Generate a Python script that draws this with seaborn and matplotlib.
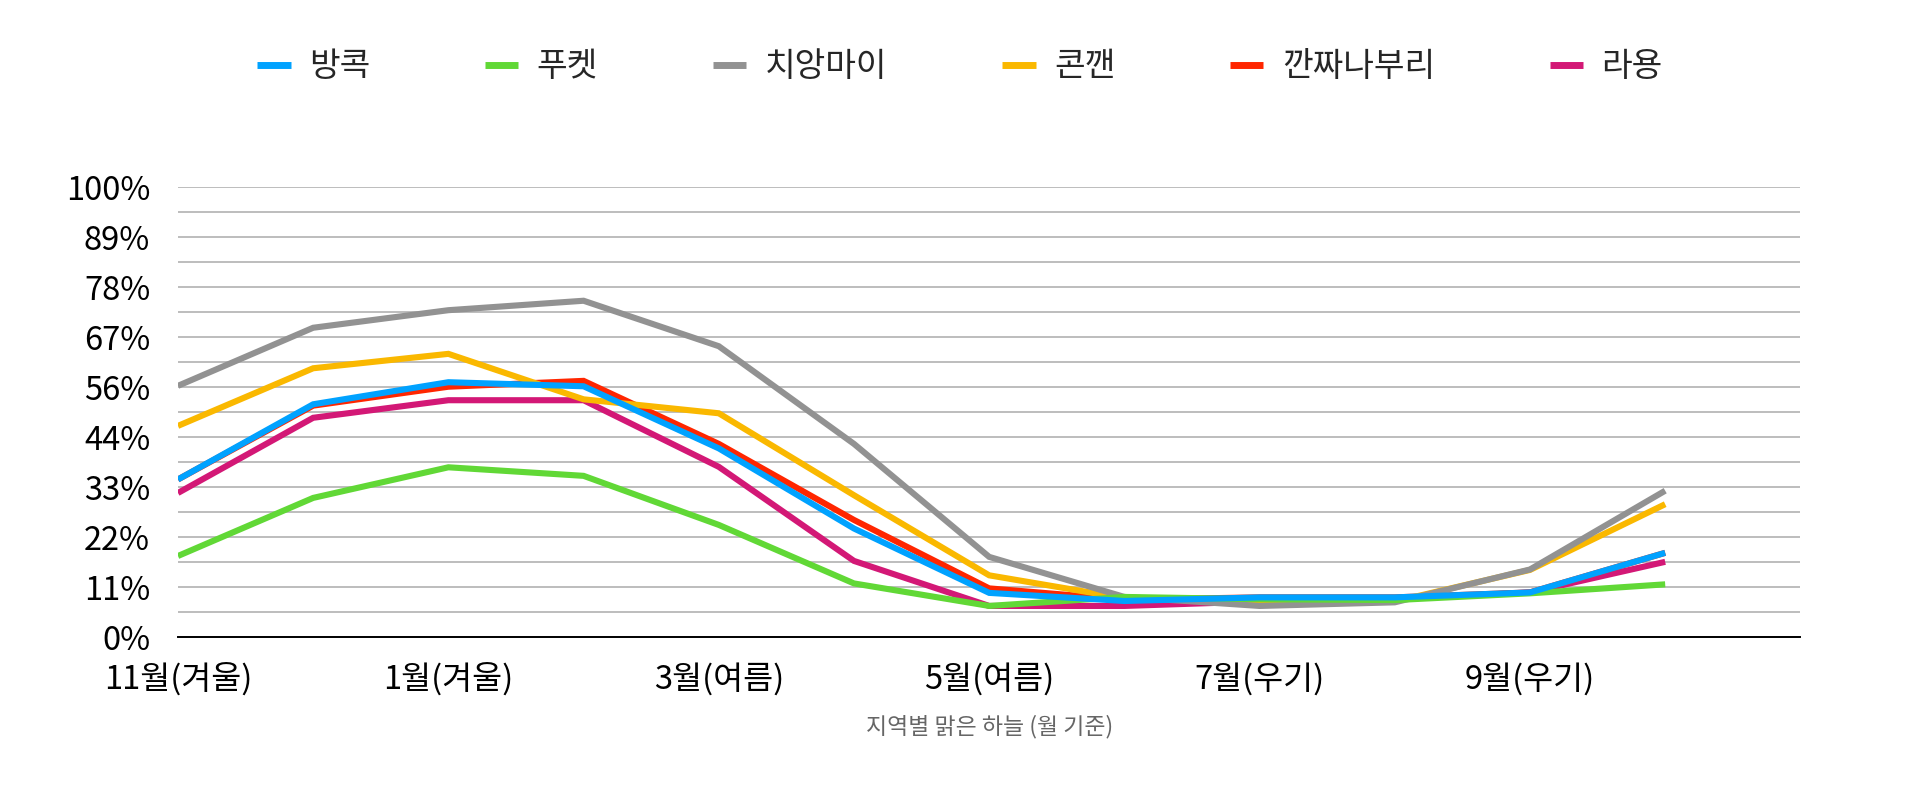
import matplotlib
matplotlib.use("Agg")
import matplotlib.pyplot as plt
import seaborn as sns
import pandas as pd
import numpy as np
from matplotlib.lines import Line2D

# ---- data ----
months = ["11월", "12월", "1월", "2월", "3월", "4월", "5월", "6월", "7월", "8월", "9월", "10월"]
tick_labels_x = ["11월(겨울)", "1월(겨울)", "3월(여름)", "5월(여름)", "7월(우기)", "9월(우기)"]
tick_labels_y = ["0%", "11%", "22%", "33%", "44%", "56%", "67%", "78%", "89%", "100%"]

bangkok = [35.1, 51.8, 56.7, 55.8, 42.0, 24.2, 9.9, 8.1, 8.9, 8.9, 10.0, 18.8]
phuket = [18.1, 31.0, 37.8, 35.9, 25.0, 12.0, 7.0, 9.0, 8.5, 8.3, 9.8, 11.8]
chiangmai = [55.9, 68.8, 72.7, 74.8, 64.7, 43.0, 17.9, 9.0, 7.0, 7.8, 15.1, 32.6]
khonkaen = [47.0, 59.8, 63.0, 52.9, 49.8, 31.6, 13.8, 8.7, 7.8, 8.0, 15.0, 29.6]
kanchanaburi = [35.1, 51.5, 55.7, 57.0, 43.0, 26.1, 10.9, 8.4, 8.9, 8.9, 10.0, 18.8]
rayong = [32.1, 48.8, 52.7, 52.7, 37.9, 17.0, 7.0, 7.0, 8.0, 8.5, 10.0, 16.8]

series_names = ["방콕", "푸켓", "치앙마이", "콘깬", "깐짜나부리", "라용"]
series_values = [bangkok, phuket, chiangmai, khonkaen, kanchanaburi, rayong]
colors = ["#00A2FF", "#61D836", "#929292", "#FAB800", "#FF2600", "#D31876"]
draw_order = ["라용", "깐짜나부리", "콘깬", "치앙마이", "푸켓", "방콕"]

xlabel = "지역별 맑은 하늘 (월 기준)"

rows = []
for name, vals in zip(series_names, series_values):
    for i, (m, v) in enumerate(zip(months, vals)):
        rows.append({"idx": i, "month": m, "region": name, "value": v})
df = pd.DataFrame(rows)

# ---- style ----
sns.set_theme(style="white")
plt.rcParams["font.family"] = ["Noto Sans CJK KR", "DejaVu Sans"]

fig = plt.figure(figsize=(19.2, 7.86), dpi=100)
ax = fig.add_axes([0.0927, 0.189, 0.845, 0.5727])

palette = dict(zip(series_names, colors))
for name in draw_order:
    sub = df[df["region"] == name]
    sns.lineplot(data=sub, x="idx", y="value", color=palette[name], lw=4.4,
                 ax=ax, legend=False, sort=False, solid_capstyle="butt",
                 solid_joinstyle="miter")

ax.set_xlim(0, 12)
ax.set_ylim(0, 100)

yt = np.linspace(0, 100, len(tick_labels_y))
ax.set_yticks(yt)
ax.set_yticklabels(tick_labels_y)
ax.set_yticks(np.linspace(0, 100, 2 * (len(tick_labels_y) - 1) + 1), minor=True)
ax.grid(axis="y", which="both", color="#b8b8b8", lw=1.3)
ax.grid(axis="x", visible=False)
ax.set_axisbelow(True)

xt = [months.index(lbl.split("(")[0]) for lbl in tick_labels_x]
ax.set_xticks(xt)
ax.set_xticklabels(tick_labels_x)

ax.tick_params(axis="y", which="both", length=0, pad=20, labelsize=23.5, labelcolor="black")
ax.tick_params(axis="x", length=0, pad=18, labelsize=23.5, labelcolor="black")

for s in ["top", "right", "left"]:
    ax.spines[s].set_visible(False)
ax.spines["bottom"].set_color("black")
ax.spines["bottom"].set_linewidth(1.4)

ax.set_ylabel("")
ax.set_xlabel(xlabel, fontsize=16.5, color="#666666", labelpad=14)

handles = [Line2D([0], [0], color=c, lw=5, solid_capstyle="butt") for c in colors]
fig.legend(handles, series_names, loc="center", bbox_to_anchor=(0.5, 0.915),
           ncol=6, frameon=False, fontsize=24, handlelength=1.0,
           handletextpad=0.55, columnspacing=3.45)

fig.savefig("out.png", dpi=100)
